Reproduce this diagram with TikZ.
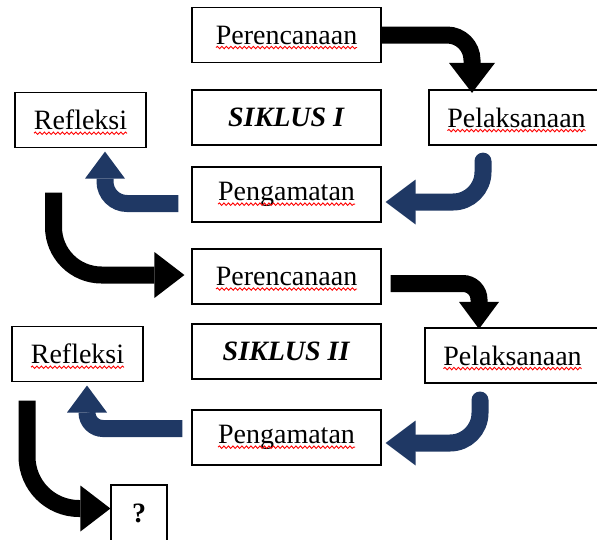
\documentclass[tikz,border=0pt]{standalone}
\usepackage{fontspec}
\setmainfont{Liberation Serif}
\usetikzlibrary{arrows.meta,decorations.pathmorphing}
\definecolor{siklusblue}{RGB}{31,56,100}
\tikzset{
  box/.style={draw, line width=1.2pt, minimum height=55pt, inner sep=0pt, font=\fontsize{28}{32}\selectfont},
  blk/.style={draw=black, line width=17pt, -{Triangle[length=30pt,width=46pt,line width=0pt]}},
  blu/.style={draw=siklusblue, line width=17pt, -{Triangle[length=30pt,width=45pt,line width=0pt]}},
  small head/.style={-{Triangle[length=27pt,width=40pt,line width=0pt]}},
  spell/.style={draw=red, line width=0.9pt, decorate, decoration={snake, amplitude=1.2pt, segment length=4.5pt}}
}
% red wavy mark under a word: node, word width
\newcommand\squiggle[2]{\draw[spell] ([shift={(-#2/2,-3.5pt)}]#1.base) -- ++(#2,0);}

\begin{document}
\begin{tikzpicture}[x=1pt,y=1pt]
  %%%%% START %%%%%
  \useasboundingbox (0,0) rectangle (597,-539);

  % siklus I
  \node[box, minimum width=189pt] (per1) at (286.5,-35) {Perencanaan};
  \node[box, minimum width=189pt] (sik1) at (286.5,-117.5) {\textbf{\textit{SIKLUS I}}};
  \node[box, minimum width=131pt] (ref1) at (80.5,-120) {Refleksi};
  \node[box, minimum width=175pt] (pel1) at (516.5,-117.5) {Pelaksanaan};
  \node[box, minimum width=189pt] (pen1) at (286.5,-194.5) {Pengamatan};

  % siklus II
  \node[box, minimum width=189pt] (per2) at (286.5,-276.5) {Perencanaan};
  \node[box, minimum width=189pt] (sik2) at (286.5,-351.5) {\textbf{\textit{SIKLUS II}}};
  \node[box, minimum width=131pt] (ref2) at (77.5,-354) {Refleksi};
  \node[box, minimum width=175pt] (pel2) at (512.5,-355.5) {Pelaksanaan};
  \node[box, minimum width=189pt] (pen2) at (286.5,-437.5) {Pengamatan};

  \node[box, minimum width=56pt, minimum height=57pt] (q) at (139,-513.5) {\textbf{?}};

  \squiggle{per1}{141pt} \squiggle{ref1}{93pt} \squiggle{pel1}{138pt} \squiggle{pen1}{137pt}
  \squiggle{per2}{141pt} \squiggle{ref2}{93pt} \squiggle{pel2}{138pt} \squiggle{pen2}{137pt}

  % arrows
  \draw[blk, rounded corners=25pt] (per1.east) -| ([shift={(-44.5pt,-3.5pt)}]pel1.north);
  \draw[blu, line cap=round, rounded corners=30pt] ([shift={(-33.5pt,-15.5pt)}]pel1.south) |- ([shift={(4pt,-7.5pt)}]pen1.east);
  \draw[blu, small head, rounded corners=22pt] ([shift={(-13pt,-9pt)}]pen1.west) -| ([shift={(24.5pt,-3.5pt)}]ref1.south);
  \draw[blk, rounded corners=48pt] ([shift={(-27pt,-44.4pt)}]ref1.south) |- ([shift={(-7pt,1.5pt)}]per2.west);

  \draw[blk, small head, rounded corners=16pt] ([shift={(9pt,-7pt)}]per2.east) -| ([shift={(-33.5pt,-1.5pt)}]pel2.north);
  \draw[blu, line cap=round, rounded corners=30pt] ([shift={(-32.5pt,-16.4pt)}]pel2.south) |- ([shift={(4pt,-5.5pt)}]pen2.east);
  \draw[blu, small head, rounded corners=16pt] ([shift={(-9pt,9pt)}]pen2.west) -| ([shift={(9.5pt,-3.4pt)}]ref2.south);
  \draw[blk, rounded corners=52pt] ([shift={(-50.5pt,-18.4pt)}]ref2.south) |- ([shift={(0pt,5pt)}]q.west);
  %%%%% END %%%%%
\end{tikzpicture}
\end{document}
